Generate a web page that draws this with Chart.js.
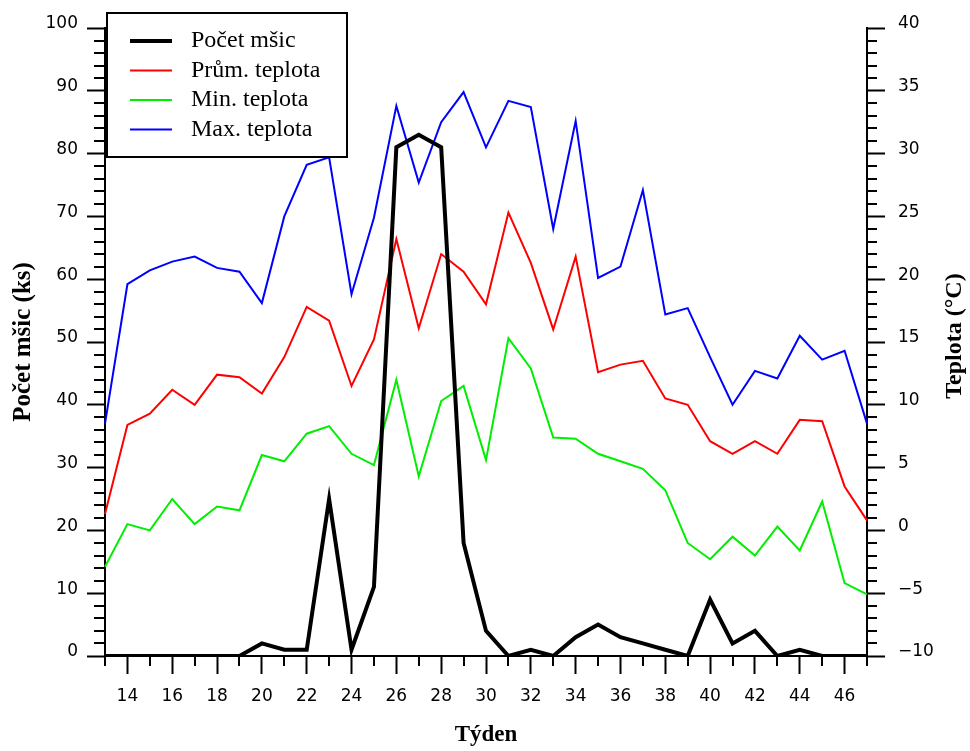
<!DOCTYPE html>
<html lang="cs">
<head>
    <meta charset="UTF-8">
    <title>Počet mšic a teplota</title>
    <style>
        body { margin: 0; background: #fff; }
        #wrap { width: 970px; height: 751px; }
    </style>
</head>
<body>
    <div id="wrap"><canvas id="chart" width="970" height="751"></canvas></div>

    <script src="https://cdn.jsdelivr.net/npm/chart.js"></script>
    <script>
        // Weeks (Týden) 13..47
        const weeks = [13, 14, 15, 16, 17, 18, 19, 20, 21, 22, 23, 24, 25, 26, 27, 28, 29, 30,
                       31, 32, 33, 34, 35, 36, 37, 38, 39, 40, 41, 42, 43, 44, 45, 46, 47];

        // Počet mšic (ks) - left axis
        const aphids = [0, 0, 0, 0, 0, 0, 0, 2, 1, 1, 25, 1, 11, 81, 83, 81, 18, 4,
                        0, 1, 0, 3, 5, 3, 2, 1, 0, 9, 2, 4, 0, 1, 0, 0, 0];

        // temperatures (°C) - right axis
        const tempAvg = [1.3, 8.4, 9.3, 11.2, 10.0, 12.4, 12.2, 10.9, 13.8, 17.8, 16.7, 11.5, 15.2, 23.2, 16.1, 22.0, 20.6, 18.0,
                         25.3, 21.3, 16.0, 21.8, 12.6, 13.2, 13.5, 10.5, 10.0, 7.1, 6.1, 7.1, 6.1, 8.8, 8.7, 3.5, 0.8];
        const tempMin = [-2.9, 0.5, 0.0, 2.5, 0.5, 1.9, 1.6, 6.0, 5.5, 7.7, 8.3, 6.1, 5.2, 12.0, 4.3, 10.3, 11.5, 5.6,
                         15.3, 12.9, 7.4, 7.3, 6.1, 5.5, 4.9, 3.2, -1.0, -2.3, -0.5, -2.0, 0.3, -1.6, 2.3, -4.2, -5.1];
        const tempMax = [8.5, 19.6, 20.7, 21.4, 21.8, 20.9, 20.6, 18.1, 25.0, 29.1, 29.7, 18.8, 24.9, 33.8, 27.7, 32.5, 34.9, 30.5,
                         34.2, 33.7, 24.0, 32.6, 20.1, 21.0, 27.1, 17.2, 17.7, 13.8, 10.0, 12.7, 12.1, 15.5, 13.6, 14.3, 8.5];

        const tickFont = { family: 'DejaVu Sans', size: 17 };
        const fmtNum = v => (v < 0 ? '\u2212' + Math.abs(v) : String(v));

        // short ticks between the labelled ones
        const minorTicks = {
            id: 'minorTicks',
            afterDraw(chart) {
                const ctx = chart.ctx;
                const { x, y, y1 } = chart.scales;
                ctx.save();
                ctx.strokeStyle = '#000';
                ctx.lineWidth = 2;
                ctx.beginPath();
                for (let v = 0; v <= 100; v += 2) {
                    if (v % 10 === 0) continue;
                    const py = Math.round(y.getPixelForValue(v));
                    ctx.moveTo(y.right - 11, py);
                    ctx.lineTo(y.right, py);
                }
                for (let t = -10; t <= 40; t++) {
                    if (t % 5 === 0) continue;
                    const py = Math.round(y1.getPixelForValue(t));
                    ctx.moveTo(y1.left, py);
                    ctx.lineTo(y1.left + 10, py);
                }
                weeks.forEach((w, i) => {
                    if (w % 2 === 0) return;
                    const px = Math.round(x.getPixelForValue(i));
                    ctx.moveTo(px, x.top);
                    ctx.lineTo(px, x.top + 10);
                });
                ctx.stroke();
                ctx.restore();
            }
        };

        // boxed legend in the top left corner + right axis title reading upwards
        const boxLegend = {
            id: 'boxLegend',
            afterDraw(chart) {
                const ctx = chart.ctx;
                const area = chart.chartArea;
                const bx = area.left + 2, by = area.top - 15;
                ctx.save();
                ctx.fillStyle = '#fff';
                ctx.fillRect(bx, by, 240, 144);
                ctx.strokeStyle = '#000';
                ctx.lineWidth = 2;
                ctx.strokeRect(bx, by, 240, 144);
                ctx.font = '24px "Liberation Serif"';
                ctx.textBaseline = 'middle';
                ctx.fillStyle = '#000';
                chart.data.datasets.forEach((ds, i) => {
                    const ry = by + 28 + i * 29.5;
                    ctx.beginPath();
                    ctx.strokeStyle = ds.borderColor;
                    ctx.lineWidth = ds.borderWidth;
                    ctx.moveTo(bx + 23, ry);
                    ctx.lineTo(bx + 65, ry);
                    ctx.stroke();
                    ctx.fillText(ds.label, bx + 84, ry);
                });

                const y1 = chart.scales.y1;
                ctx.translate(955, (y1.top + y1.bottom) / 2 - 6);
                ctx.rotate(-Math.PI / 2);
                ctx.textAlign = 'center';
                ctx.font = 'bold 24px "Liberation Serif"';
                ctx.fillText('Teplota (°C)', 0, 0);
                ctx.restore();
            }
        };

        new Chart(document.getElementById('chart'), {
            type: 'line',
            data: {
                labels: weeks,
                datasets: [
                    { label: 'Počet mšic', data: aphids, yAxisID: 'y', borderColor: '#000000', borderWidth: 4 },
                    { label: 'Prům. teplota', data: tempAvg, yAxisID: 'y1', borderColor: '#ff0000', borderWidth: 2 },
                    { label: 'Min. teplota', data: tempMin, yAxisID: 'y1', borderColor: '#00ee00', borderWidth: 2 },
                    { label: 'Max. teplota', data: tempMax, yAxisID: 'y1', borderColor: '#0000ff', borderWidth: 2 }
                ]
            },
            options: {
                responsive: false,
                animation: false,
                layout: { padding: { top: 28, left: 0, right: 0, bottom: 0 } },
                elements: {
                    point: { radius: 0 },
                    line: { tension: 0, borderJoinStyle: 'miter', fill: false }
                },
                plugins: {
                    legend: { display: false },
                    tooltip: { enabled: false }
                },
                scales: {
                    x: {
                        offset: false,
                        afterFit: s => { s.height = 95; },
                        border: { display: true, color: '#000', width: 2 },
                        grid: {
                            drawOnChartArea: false,
                            tickLength: 18,
                            tickWidth: 2,
                            tickColor: c => (weeks[c.index] % 2 === 0 ? '#000' : 'rgba(0,0,0,0)')
                        },
                        ticks: {
                            autoSkip: false,
                            maxRotation: 0,
                            color: '#000',
                            font: tickFont,
                            padding: 12,
                            callback: (v, i) => (weeks[i] % 2 === 0 ? String(weeks[i]) : '')
                        },
                        title: {
                            display: true,
                            text: 'Týden',
                            color: '#000',
                            font: { family: 'Liberation Serif', size: 23, weight: 'bold', lineHeight: 1.2 },
                            padding: { top: 0, bottom: 2 }
                        }
                    },
                    y: {
                        position: 'left',
                        min: 0,
                        max: 100,
                        afterFit: s => { s.width = 105; },
                        border: { display: true, color: '#000', width: 2 },
                        grid: { drawOnChartArea: false, tickLength: 18, tickWidth: 2, tickColor: '#000' },
                        ticks: { stepSize: 10, color: '#000', font: tickFont, padding: 9, labelOffset: -4 },
                        title: {
                            display: true,
                            text: 'Počet mšic (ks)',
                            color: '#000',
                            font: { family: 'Liberation Serif', size: 25, weight: 'bold', lineHeight: 1.2 },
                            padding: { top: 9, bottom: 0 }
                        }
                    },
                    y1: {
                        position: 'right',
                        min: -10,
                        max: 40,
                        afterFit: s => { s.width = 103; },
                        border: { display: true, color: '#000', width: 2 },
                        grid: { drawOnChartArea: false, tickLength: 18, tickWidth: 2, tickColor: '#000' },
                        ticks: { stepSize: 5, color: '#000', font: tickFont, padding: 13, labelOffset: -4, callback: v => fmtNum(v) }
                    }
                }
            },
            plugins: [minorTicks, boxLegend]
        });
    </script>
</body>
</html>
